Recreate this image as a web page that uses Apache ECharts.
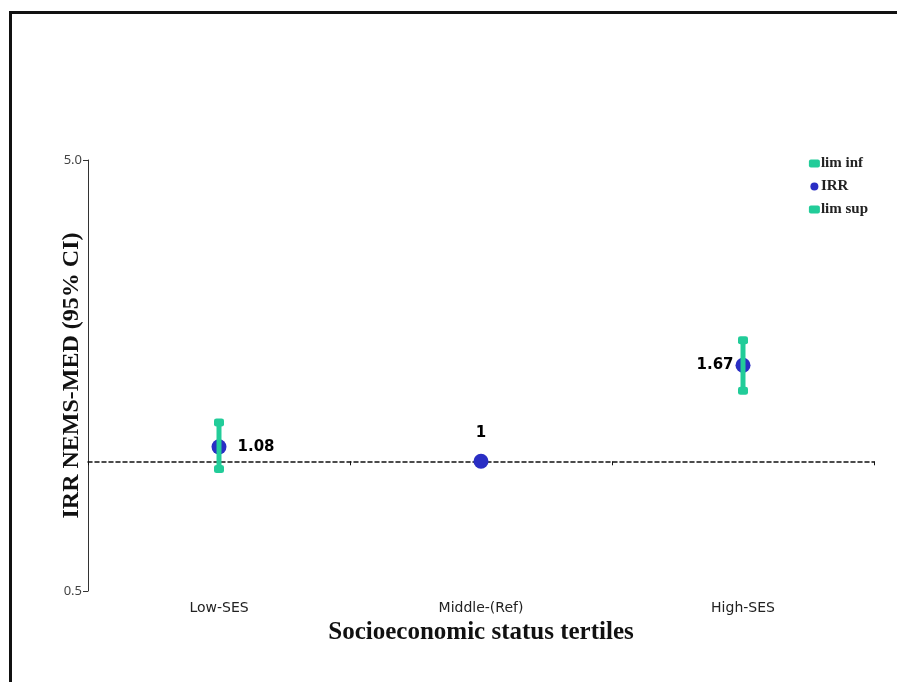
<!DOCTYPE html>
<html>
<head>
<meta charset="utf-8">
<title>IRR NEMS-MED by SES tertile</title>
<script src="https://cdn.jsdelivr.net/npm/echarts@6/dist/echarts.min.js"></script>
<style>
  html, body { margin: 0; padding: 0; background: #fff; }
  #chart { position: absolute; left: 0; top: 0; width: 897px; height: 682px; }
  #frame {
    position: absolute; left: 9px; top: 11px; width: 900px; height: 700px;
    border-left: 3px solid #111; border-top: 3px solid #111;
    pointer-events: none; z-index: 5;
  }
</style>
</head>
<body>
<div id="chart"></div>
<div id="frame"></div>
<script>
// data
const categories = ['Low-SES', 'Middle-(Ref)', 'High-SES'];
const irr = [1.08, 1, 1.67];
const limInf = [0.96, '-', 1.457];
const limSup = [1.23, '-', 1.91];
const yTicks = [0.5, 5];

const green = '#22cc99';
const blue = '#2a2ec4';

// error bar segments, one per category that has limits
const barData = [];
categories.forEach((c, i) => {
  if (limInf[i] !== '-' && limSup[i] !== '-') barData.push([i, limInf[i], limSup[i]]);
});

const labelPos = ['right', 'top', 'left'];
const labelDist = [11, 13, 2];

let chart = echarts.init(document.getElementById('chart'));
const option = {
  animation: false,
  grid: { left: 88, right: 23, top: 160, bottom: 91 },
  legend: {
    orient: 'vertical',
    right: 24,
    top: 151,
    itemWidth: 11,
    itemHeight: 8,
    itemGap: 8,
    textStyle: { fontFamily: 'Liberation Serif', fontWeight: 'bold', fontSize: 15, color: '#222', padding: [0, 0, 0, -4] },
    data: [
      { name: 'lim inf', icon: 'roundRect' },
      { name: 'IRR', icon: 'circle' },
      { name: 'lim sup', icon: 'roundRect' }
    ]
  },
  xAxis: [
    {
      type: 'category',
      data: categories,
      boundaryGap: true,
      axisLine: { show: false },
      axisTick: { show: false },
      axisLabel: { margin: 10, fontFamily: 'DejaVu Sans', fontSize: 14, color: '#222' },
      name: 'Socioeconomic status tertiles',
      nameLocation: 'middle',
      nameGap: 28,
      nameTextStyle: { fontFamily: 'Liberation Serif', fontWeight: 'bold', fontSize: 25, color: '#111' }
    },
    {
      // dashed reference line at IRR = 1
      type: 'category',
      data: categories,
      position: 'bottom',
      offset: -129.7,
      boundaryGap: true,
      axisLine: { lineStyle: { color: '#111', type: [4, 3], width: 1.5 } },
      axisTick: { show: true, length: 4, lineStyle: { color: '#111' } },
      axisLabel: { show: false }
    }
  ],
  yAxis: {
    type: 'log',
    logBase: 10,
    min: 0.5,
    max: 5,
    splitLine: { show: false },
    axisLine: { show: true, lineStyle: { color: '#333' } },
    axisTick: { show: true, length: 5, customValues: yTicks, lineStyle: { color: '#333' } },
    axisLabel: {
      customValues: yTicks,
      formatter: v => Number(v).toFixed(1),
      fontFamily: 'Noto Sans',
      fontSize: 13,
      color: '#444',
      margin: 6
    },
    name: 'IRR NEMS-MED (95% CI)',
    nameLocation: 'middle',
    nameMoveOverlap: false,
    nameGap: 4,
    nameTextStyle: { fontFamily: 'Liberation Serif', fontWeight: 'bold', fontSize: 24, color: '#111' }
  },
  series: [
    {
      name: 'IRR',
      type: 'scatter',
      xAxisIndex: 0,
      symbol: 'circle',
      symbolSize: 15,
      itemStyle: { color: blue, opacity: 1 },
      z: 2,
      data: irr.map((v, i) => ({
        value: v,
        label: {
          show: true,
          position: labelPos[i],
          distance: labelDist[i],
          formatter: String(v),
          fontFamily: 'DejaVu Sans',
          fontWeight: 'bold',
          fontSize: 15,
          color: '#000'
        }
      }))
    },
    {
      name: 'errbar',
      type: 'custom',
      xAxisIndex: 0,
      z: 3,
      silent: true,
      encode: { x: 0, y: [1, 2] },
      data: barData,
      renderItem: function (params, api) {
        const lo = api.coord([api.value(0), api.value(1)]);
        const hi = api.coord([api.value(0), api.value(2)]);
        return {
          type: 'line',
          shape: { x1: lo[0], y1: lo[1], x2: hi[0], y2: hi[1] },
          style: { stroke: green, lineWidth: 5 }
        };
      }
    },
    {
      name: 'lim inf',
      type: 'scatter',
      xAxisIndex: 0,
      symbol: 'roundRect',
      symbolSize: [10, 8],
      itemStyle: { color: green, opacity: 1 },
      z: 4,
      data: limInf
    },
    {
      name: 'lim sup',
      type: 'scatter',
      xAxisIndex: 0,
      symbol: 'roundRect',
      symbolSize: [10, 8],
      itemStyle: { color: green, opacity: 1 },
      z: 4,
      data: limSup
    }
  ]
};
chart.setOption(option);
</script>
</body>
</html>
